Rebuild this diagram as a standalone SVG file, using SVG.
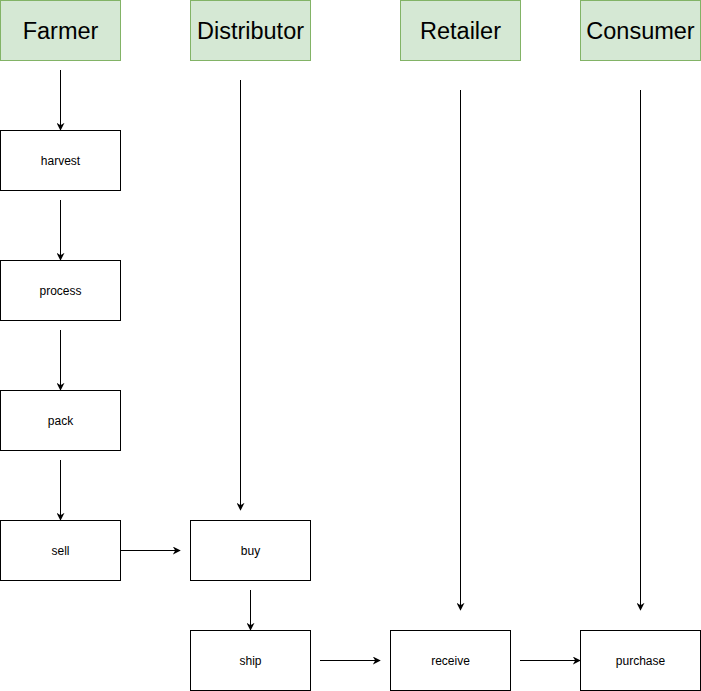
<svg xmlns="http://www.w3.org/2000/svg" width="701" height="691" viewBox="0 0 701 691">
<style>
.hdr rect{fill:#d5e8d4;stroke:#82b366;stroke-width:1}
.hdr text{font-family:"Liberation Sans",Arial,sans-serif;font-size:23.5px;fill:#000;text-anchor:middle;dominant-baseline:central}
.node rect{fill:#fff;stroke:#000;stroke-width:1}
.node text{font-family:"Liberation Sans",Arial,sans-serif;font-size:12px;fill:#000;text-anchor:middle;dominant-baseline:central}
.edges line{stroke:#000;stroke-width:1;fill:none;marker-end:url(#arr)}
</style>
<defs>
<marker id="arr" viewBox="0 0 10 10" refX="9" refY="5" markerWidth="8" markerHeight="8" markerUnits="userSpaceOnUse" orient="auto">
<path d="M0,0 L10,5 L0,10 L3,5 Z" fill="#000"/>
</marker>
</defs>
<rect width="701" height="691" fill="#fff"/>
<g id="farmer" class="hdr"><rect x="0.5" y="0.5" width="120" height="60"/><text x="60.5" y="30.5">Farmer</text></g>
<g id="distributor" class="hdr"><rect x="190.5" y="0.5" width="120" height="60"/><text x="250.5" y="30.5">Distributor</text></g>
<g id="retailer" class="hdr"><rect x="400.5" y="0.5" width="120" height="60"/><text x="460.5" y="30.5">Retailer</text></g>
<g id="consumer" class="hdr"><rect x="580.5" y="0.5" width="120" height="60"/><text x="640.5" y="30.5">Consumer</text></g>
<g id="harvest" class="node"><rect x="0.5" y="130.5" width="120" height="60"/><text x="60.5" y="160.5">harvest</text></g>
<g id="process" class="node"><rect x="0.5" y="260.5" width="120" height="60"/><text x="60.5" y="290.5">process</text></g>
<g id="pack" class="node"><rect x="0.5" y="390.5" width="120" height="60"/><text x="60.5" y="420.5">pack</text></g>
<g id="sell" class="node"><rect x="0.5" y="520.5" width="120" height="60"/><text x="60.5" y="550.5">sell</text></g>
<g id="buy" class="node"><rect x="190.5" y="520.5" width="120" height="60"/><text x="250.5" y="550.5">buy</text></g>
<g id="ship" class="node"><rect x="190.5" y="630.5" width="120" height="60"/><text x="250.5" y="660.5">ship</text></g>
<g id="receive" class="node"><rect x="390.5" y="630.5" width="120" height="60"/><text x="450.5" y="660.5">receive</text></g>
<g id="purchase" class="node"><rect x="580.5" y="630.5" width="120" height="60"/><text x="640.5" y="660.5">purchase</text></g>
<g id="connectors" class="edges">
<line x1="60.5" y1="70" x2="60.5" y2="130"/>
<line x1="60.5" y1="200" x2="60.5" y2="260"/>
<line x1="60.5" y1="330" x2="60.5" y2="390"/>
<line x1="60.5" y1="460" x2="60.5" y2="520"/>
<line x1="120.5" y1="550.5" x2="180" y2="550.5"/>
<line x1="240.5" y1="80" x2="240.5" y2="510"/>
<line x1="250.5" y1="590" x2="250.5" y2="630"/>
<line x1="460.5" y1="90" x2="460.5" y2="610"/>
<line x1="640.5" y1="90" x2="640.5" y2="610"/>
<line x1="320" y1="660.5" x2="380" y2="660.5"/>
<line x1="520" y1="660.5" x2="580" y2="660.5"/>
</g>
</svg>
